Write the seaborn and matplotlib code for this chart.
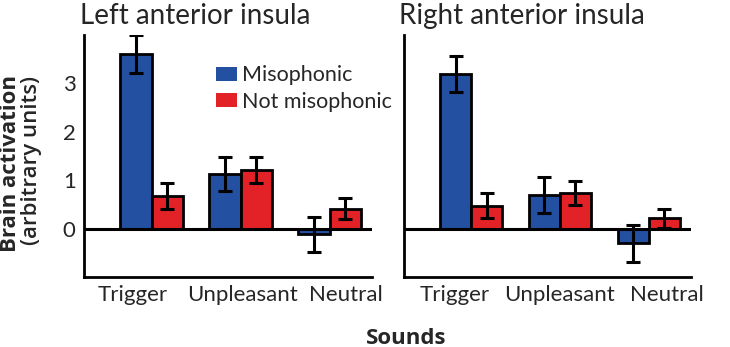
import matplotlib
matplotlib.use("Agg")
import matplotlib.pyplot as plt
import seaborn as sns
import pandas as pd

sounds = ["Trigger", "Unpleasant", "Neutral"]
groups = ["Misophonic", "Not misophonic"]

left_miso = [3.59, 1.14, -0.10]
left_miso_err = [0.39, 0.35, 0.36]
left_ctrl = [0.68, 1.22, 0.42]
left_ctrl_err = [0.27, 0.27, 0.22]

right_miso = [3.18, 0.71, -0.29]
right_miso_err = [0.37, 0.37, 0.38]
right_ctrl = [0.48, 0.74, 0.22]
right_ctrl_err = [0.26, 0.25, 0.20]

yticks = [0, 1, 2, 3]
colors = {"Misophonic": "#2350a0", "Not misophonic": "#e32228"}

sns.set_theme(style="white")
plt.rcParams["font.family"] = ["Lato", "DejaVu Sans"]


def make_frame(miso, miso_err, ctrl, ctrl_err):
    rows = []
    for s, v, e in zip(sounds, miso, miso_err):
        rows.append({"sound": s, "group": groups[0], "value": v, "err": e})
    for s, v, e in zip(sounds, ctrl, ctrl_err):
        rows.append({"sound": s, "group": groups[1], "value": v, "err": e})
    return pd.DataFrame(rows)


fig = plt.figure(figsize=(7.3, 3.47), dpi=100)
ax_l = fig.add_axes([0.115, 0.2017, 0.395, 0.697])
ax_r = fig.add_axes([0.553, 0.2017, 0.394, 0.697])

panels = [
    (ax_l, make_frame(left_miso, left_miso_err, left_ctrl, left_ctrl_err),
     "Left anterior insula", [-0.21, 1.02, 2.18]),
    (ax_r, make_frame(right_miso, right_miso_err, right_ctrl, right_ctrl_err),
     "Right anterior insula", [-0.18, 0.99, 2.21]),
]

for ax, df, title, label_pos in panels:
    sns.barplot(data=df, x="sound", y="value", hue="group", hue_order=groups,
                order=sounds, palette=colors, saturation=1, width=0.7, gap=0,
                errorbar=None, edgecolor="black", linewidth=2,
                legend=False, ax=ax, zorder=2)
    # error bars at bar centres, in the order seaborn draws the bars
    bars = ax.patches[:6]
    for p, v, e in zip(bars, df["value"], df["err"]):
        cx = p.get_x() + p.get_width() / 2
        ax.errorbar(cx, v, yerr=e, color="black", elinewidth=2.2,
                    capsize=5, capthick=2.2, zorder=4)
    ax.axhline(0, color="black", linewidth=2.2, zorder=3)
    ax.set_xlim(-0.76, 2.48)
    ax.set_ylim(-0.98, 3.98)
    ax.set_yticks(yticks)
    ax.set_xticks([0, 1, 2])
    ax.set_xticklabels([])
    ax.set_xticks(label_pos, minor=True)
    ax.set_xticklabels(sounds, minor=True, fontsize=16)
    ax.tick_params(axis="x", which="major", direction="in", length=3,
                   width=1.5, color="black")
    ax.tick_params(axis="x", which="minor", length=0, pad=6)
    ax.tick_params(axis="y", direction="in", length=3, width=1.5,
                   color="black", labelsize=16, pad=6)
    for side in ("top", "right"):
        ax.spines[side].set_visible(False)
    for side in ("left", "bottom"):
        ax.spines[side].set_color("black")
        ax.spines[side].set_linewidth(2)
    ax.set_xlabel("")
    ax.set_ylabel("")
    ax.set_title(title, loc="left", fontsize=20, pad=8, x=-0.015)

ax_r.set_yticklabels([])

handles = [plt.Rectangle((0, 0), 1, 1, facecolor=colors[g], edgecolor="none")
           for g in groups]
ax_l.legend(handles, groups, loc="upper left", bbox_to_anchor=(0.457, 0.875),
            frameon=False, fontsize=15.5, handlelength=1.0, handleheight=0.6,
            handletextpad=0.2, labelspacing=0.3, borderpad=0,
            borderaxespad=0)

label_font = ["Open Sans", "DejaVu Sans"]
fig.text(11 / 730, 1 - 163 / 347, "Brain activation", rotation=90,
         fontsize=16, fontweight="bold", family=label_font,
         ha="center", va="center")
fig.text(32 / 730, 1 - 161 / 347, "(arbitrary units)", rotation=90,
         fontsize=16, fontweight="semibold", family=label_font,
         ha="center", va="center")
fig.text(406 / 730, 3.5 / 347, "Sounds", fontsize=16, fontweight="bold",
         family=label_font, ha="center", va="baseline")

fig.savefig("out.png", dpi=100)
